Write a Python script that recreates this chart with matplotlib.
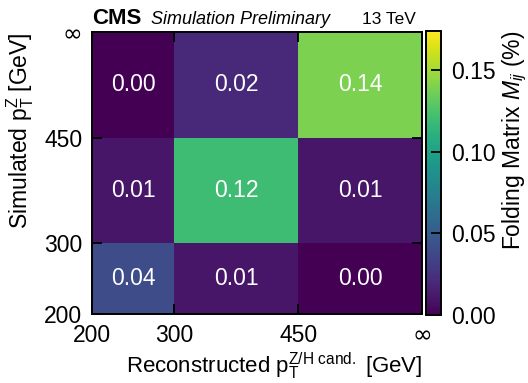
# Импортируем matplotlib и переводим его в безэкранный режим.
import matplotlib

matplotlib.use("Agg")

# Импортируем pyplot и numpy для построения карты.
import matplotlib.pyplot as plt
import numpy as np

# Границы бинов по pT (бесконечность рисуем как 600 ГэВ).
bin_edges = [200, 300, 450, 600]
edge_labels = ["200", "300", "450", "∞"]

# Элементы матрицы свёртки: строки по симулированному pT (снизу вверх).
row_200_300 = [0.04, 0.01, 0.00]
row_300_450 = [0.01, 0.12, 0.01]
row_450_inf = [0.00, 0.02, 0.14]

# Диапазон цветовой шкалы и её деления.
color_min = 0.0
color_max = 0.174
cbar_ticks = [0.00, 0.05, 0.10, 0.15]

# Общие настройки шрифтов.
plt.rcParams["font.family"] = ["Liberation Sans", "DejaVu Sans"]
plt.rcParams["mathtext.fontset"] = "custom"
plt.rcParams["mathtext.rm"] = "Liberation Sans"
plt.rcParams["mathtext.it"] = "Liberation Sans:italic"
plt.rcParams["mathtext.bf"] = "Liberation Sans:bold"
plt.rcParams["font.size"] = 16

# Создаём фигуру и оси вручную, чтобы точно задать положение шкалы.
fig = plt.figure(figsize=(5.28, 3.83), dpi=100)
ax = fig.add_axes([0.1742, 0.1802, 0.625, 0.7362])
cax = fig.add_axes([0.8068, 0.1775, 0.0284, 0.7415])

# Собираем матрицу и рисуем её.
matrix = np.array([row_200_300, row_300_450, row_450_inf])
mesh = ax.pcolormesh(bin_edges, bin_edges, matrix, cmap="viridis",
                     vmin=color_min, vmax=color_max)

# Подписываем значения в каждой ячейке.
centers = [(bin_edges[i] + bin_edges[i + 1]) / 2 for i in range(len(bin_edges) - 1)]
for iy, yc in enumerate(centers):
    for ix, xc in enumerate(centers):
        ax.text(xc, yc, f"{matrix[iy, ix]:.2f}", color="white",
                ha="center", va="center", fontsize=16.5)

# Оси с делениями внутрь со всех сторон.
ax.set_xlim(bin_edges[0], bin_edges[-1])
ax.set_ylim(bin_edges[0], bin_edges[-1])
ax.set_xticks(bin_edges)
ax.set_xticklabels(edge_labels)
ax.set_yticks(bin_edges)
ax.set_yticklabels(edge_labels)
ax.tick_params(direction="in", length=7, width=1.3, top=True, right=True,
               pad=7, labelsize=16.5)
for spine in ax.spines.values():
    spine.set_linewidth(1.4)

# Знак бесконечности берём покрупнее из DejaVu.
for lbl in [ax.get_xticklabels()[-1], ax.get_yticklabels()[-1]]:
    lbl.set_fontfamily("DejaVu Sans")
    lbl.set_fontsize(17)

# Подписи осей прижаты к краям, как в стиле CMS.
ax.set_xlabel(r"Reconstructed $\mathrm{p_T^{Z/H\ cand.}}$ [GeV]", loc="right",
              fontsize=16, labelpad=2)
ax.set_ylabel(r"Simulated $\mathrm{p_T^{Z}}$ [GeV]", loc="top",
              fontsize=16.5, labelpad=6)

# Заголовок с меткой эксперимента и энергией.
ax.text(0.0, 1.028, "CMS", transform=ax.transAxes, fontsize=16,
        fontweight="bold", va="baseline", ha="left")
ax.text(0.178, 1.028, "Simulation Preliminary", transform=ax.transAxes,
        fontsize=13, fontstyle="italic", va="baseline", ha="left")
ax.text(0.98, 1.028, "13 TeV", transform=ax.transAxes, fontsize=12.5,
        va="baseline", ha="right")

# Цветовая шкала.
cbar = fig.colorbar(mesh, cax=cax, ticks=cbar_ticks, format="%.2f")
cbar.outline.set_linewidth(1.4)
cax.tick_params(direction="in", length=7, width=1.3, labelsize=16.5, pad=7)
cbar.set_label(r"Folding Matrix $M_{ij}$ (%)", loc="top", fontsize=16.5)

fig.savefig("out.png", dpi=100)
